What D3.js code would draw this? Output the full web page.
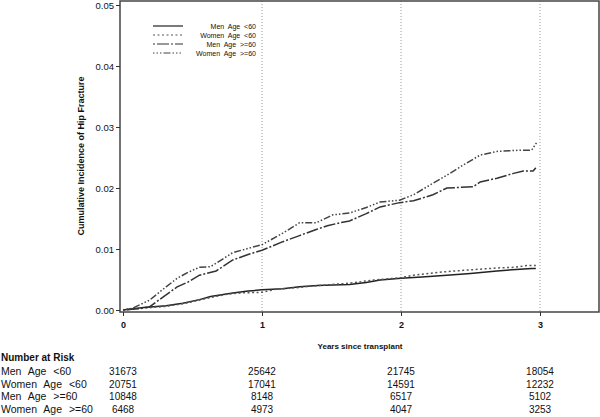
<!DOCTYPE html>
<html><head><meta charset="utf-8">
<script src="https://cdn.jsdelivr.net/npm/d3@7"></script>
<style>body{margin:0;background:#fff}svg{display:block;font-family:"Liberation Sans",Arial,sans-serif}</style>
</head><body>
<svg id="c" width="600" height="417"></svg>
<script>
const seriesNames = ["Men Age <60","Women Age <60","Men Age >=60","Women Age >=60"];
const menU60_t = [0,0.07,0.15,0.31,0.43,0.55,0.63,0.79,0.9,1.0,1.15,1.27,1.4,1.51,1.63,1.75,1.85,2.0,2.15,2.33,2.5,2.69,2.8,2.94,2.97];
const menU60_v = [0,0.0002,0.0004,0.0007,0.0011,0.0017,0.0022,0.0028,0.0031,0.0033,0.0035,0.0038,0.0040,0.0041,0.0042,0.0045,0.0049,0.0052,0.0054,0.0057,0.0060,0.0064,0.0066,0.0068,0.0068];
const womenU60_t = [0,0.1,0.2,0.31,0.45,0.6,0.75,0.85,1.0,1.1,1.27,1.4,1.63,1.8,2.0,2.09,2.2,2.33,2.45,2.57,2.7,2.81,2.91,2.97];
const womenU60_v = [0,0.0002,0.0004,0.0006,0.0011,0.0019,0.0026,0.0028,0.0029,0.0034,0.0037,0.0040,0.0044,0.0049,0.0053,0.0057,0.0060,0.0063,0.0065,0.0067,0.0069,0.0070,0.0073,0.0073];
const menO60_t = [0,0.1,0.19,0.28,0.39,0.47,0.55,0.67,0.79,0.9,1.0,1.15,1.27,1.39,1.47,1.56,1.63,1.75,1.85,1.99,2.09,2.23,2.33,2.52,2.57,2.69,2.81,2.88,2.95,2.97];
const menO60_v = [0,0.0002,0.0005,0.002,0.0038,0.0046,0.0057,0.0064,0.0082,0.0091,0.0098,0.0112,0.0122,0.0132,0.0138,0.0143,0.0146,0.0158,0.0169,0.0176,0.0179,0.0189,0.0200,0.0202,0.0210,0.0216,0.0224,0.0228,0.0228,0.0233];
const womenO60_t = [0,0.07,0.19,0.31,0.39,0.47,0.55,0.63,0.79,0.9,1.0,1.15,1.27,1.39,1.51,1.63,1.75,1.85,1.99,2.09,2.21,2.33,2.45,2.57,2.69,2.86,2.94,2.98];
const womenO60_v = [0,0.0003,0.0016,0.0038,0.0052,0.0062,0.007,0.0071,0.0094,0.0101,0.0107,0.0126,0.0143,0.0143,0.0156,0.0159,0.0168,0.0177,0.018,0.0189,0.0205,0.0221,0.0238,0.0254,0.026,0.0262,0.0262,0.0276];
const xTicks = [0,1,2,3];
const yTicks = [0,0.01,0.02,0.03,0.04,0.05];
const refLines = [1,2,3];
const riskTitle = "Number at Risk";
const riskMenU60 = [31673,25642,21745,18054];
const riskWomenU60 = [20751,17041,14591,12232];
const riskMenO60 = [10848,8148,6517,5102];
const riskWomenO60 = [6468,4973,4047,3253];

const svg = d3.select("#c");
const L=120, R=599, T=1, B=312;
const x = d3.scaleLinear().domain([0,3]).range([123,540]);
const y = d3.scaleLinear().domain([0,0.05]).range([310,5]);

svg.selectAll(".ref").data(refLines).enter().append("line")
  .attr("x1",d=>x(d)).attr("x2",d=>x(d)).attr("y1",T).attr("y2",B)
  .attr("stroke","#999").attr("stroke-width",1).attr("stroke-dasharray","1,2");

svg.append("rect").attr("x",L).attr("y",T).attr("width",R-L).attr("height",B-T)
  .attr("fill","none").attr("stroke","#444").attr("stroke-width",1.5);

const yAx = svg.append("g").attr("transform",`translate(${L},0)`)
  .call(d3.axisLeft(y).tickValues(yTicks).tickFormat(d3.format(".2f")).tickSize(4).tickPadding(2));
yAx.select(".domain").remove();
yAx.selectAll("text").attr("font-size",9.5).attr("fill","#111").attr("font-family","Liberation Sans, Arial, sans-serif");
yAx.selectAll("line").attr("stroke","#333");
const xAx = svg.append("g").attr("transform",`translate(0,${B})`)
  .call(d3.axisBottom(x).tickValues(xTicks).tickFormat(d3.format("d")).tickSize(4).tickPadding(6));
xAx.select(".domain").remove();
xAx.selectAll("text").attr("font-size",9).attr("font-weight","bold").attr("fill","#111").attr("font-family","Liberation Sans, Arial, sans-serif");
xAx.selectAll("line").attr("stroke","#333");

svg.append("text").attr("transform","translate(84,156) rotate(-90)").attr("text-anchor","middle")
  .attr("font-size",9).attr("font-weight","bold").attr("fill","#111").text("Cumulative Incidence of Hip Fracture");
svg.append("text").attr("x",360).attr("y",349).attr("text-anchor","middle")
  .attr("font-size",8).attr("font-weight","bold").attr("fill","#111").text("Years since transplant");

const series = [
  {t:menU60_t, v:menU60_v, dash:null, color:"#222"},
  {t:womenU60_t, v:womenU60_v, dash:"2,2.5", color:"#555"},
  {t:menO60_t, v:menO60_v, dash:"2,2,12,2", color:"#333"},
  {t:womenO60_t, v:womenO60_v, dash:"1.5,2,1.5,2,1.5,2,7,2", color:"#444"}
];
const line = d3.line().x(d=>x(d[0])).y(d=>y(d[1])).curve(d3.curveLinear);
series.forEach(s=>{
  const pts = s.t.map((t,i)=>[t,s.v[i]]);
  svg.append("path").attr("d",line(pts)).attr("fill","none").attr("stroke",s.color)
    .attr("stroke-width",1.5).attr("stroke-dasharray",s.dash);
});

const lg = svg.append("g");
seriesNames.forEach((n,i)=>{
  const yy = 26 + i*9;
  lg.append("line").attr("x1",153).attr("x2",183).attr("y1",yy).attr("y2",yy)
    .attr("stroke",series[i].color).attr("stroke-width",1.2).attr("stroke-dasharray",series[i].dash);
  lg.append("text").attr("x",256).attr("y",yy+2.5).attr("text-anchor","end")
    .attr("font-size",7).attr("word-spacing",2).attr("fill","#111").text(n);
});

svg.append("text").attr("x",1).attr("y",361).attr("font-size",10).attr("font-weight","bold").attr("fill","#111").text(riskTitle);
const risks = [riskMenU60,riskWomenU60,riskMenO60,riskWomenO60];
risks.forEach((r,i)=>{
  const yy = 375 + i*12.7;
  svg.append("text").attr("x",1).attr("y",yy).attr("font-size",10.5).attr("word-spacing",4).attr("fill","#111").text(seriesNames[i]);
  r.forEach((v,j)=>{
    svg.append("text").attr("x",x(xTicks[j])).attr("y",yy).attr("text-anchor","middle")
      .attr("font-size",10).attr("fill","#111").text(v);
  });
});
</script>
</body></html>
